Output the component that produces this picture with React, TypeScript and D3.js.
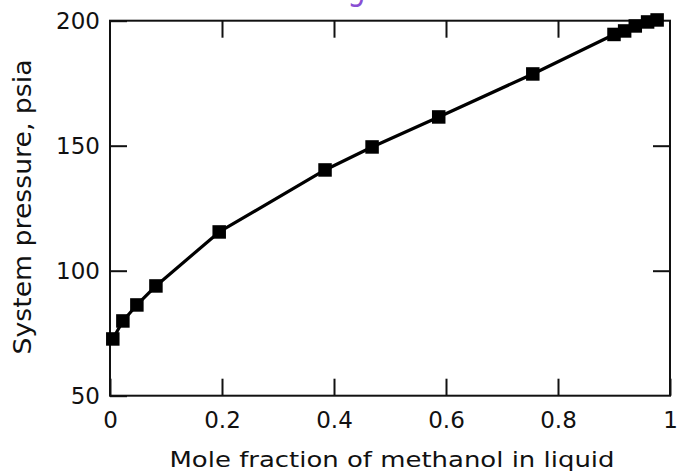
import {useRef, useEffect} from 'react';
import * as d3 from 'd3';

// mole fraction of methanol in liquid vs system pressure (psia)
const MOLE_FRACTION = [0.005, 0.023, 0.048, 0.082, 0.195, 0.384, 0.468, 0.587, 0.755, 0.9, 0.919, 0.938, 0.96, 0.977];
const PRESSURE = [72.7, 79.9, 86.3, 93.9, 115.5, 140.3, 149.5, 161.5, 178.7, 194.5, 195.9, 197.9, 199.5, 200.3];

const X_TICKS = [0, 0.2, 0.4, 0.6, 0.8, 1];
const X_TICK_LABELS = ['0', '0.2', '0.4', '0.6', '0.8', '1'];
const Y_TICKS = [50, 100, 150, 200];
const Y_TICK_LABELS = ['50', '100', '150', '200'];

const TITLE = 'Isothermal diagram at 100 °C';
const X_TITLE = 'Mole fraction of methanol in liquid';
const Y_TITLE = 'System pressure, psia';

export default function App() {
    const bottomAxis = useRef(null);
    const leftAxis = useRef(null);
    const topAxis = useRef(null);
    const rightAxis = useRef(null);

    const CHART = {
        width: 678,
        height: 473,
        left: 110,
        right: 670,
        top: 20.7,
        bottom: 395.7,
        tick: 17,
        marker: 13.5
    };

    const xScale = d3.scaleLinear().domain([0, 1]).range([CHART.left, CHART.right]);
    const yScale = d3.scaleLinear().domain([50, 200]).range([CHART.bottom, CHART.top]);

    const points = MOLE_FRACTION.map((x, i) => ({x, y: PRESSURE[i]}));

    const line = d3.line<{x: number, y: number}>()
        .x((d) => xScale(d.x))
        .y((d) => yScale(d.y));

    useEffect(() => {
        const style = (sel) => {
            sel.select('.domain').remove();
            sel.selectAll('.tick line').attr('stroke', '#111').attr('stroke-width', 2);
            sel.selectAll('.tick text')
                .attr('fill', '#111')
                .attr('font-family', '"DejaVu Sans", sans-serif')
                .attr('font-size', 23);
        };

        d3.select(bottomAxis.current)
            .call(d3.axisBottom(xScale)
                .tickValues(X_TICKS)
                .tickFormat((_, i) => X_TICK_LABELS[i])
                .tickSize(-CHART.tick)
                .tickPadding(16))
            .call(style);

        d3.select(leftAxis.current)
            .call(d3.axisLeft(yScale)
                .tickValues(Y_TICKS)
                .tickFormat((_, i) => Y_TICK_LABELS[i])
                .tickSize(-CHART.tick)
                .tickPadding(10))
            .call(style);

        d3.select(topAxis.current)
            .call(d3.axisTop(xScale)
                .tickValues(X_TICKS.slice(1, -1))
                .tickFormat(() => '')
                .tickSize(-CHART.tick))
            .call(style);

        d3.select(rightAxis.current)
            .call(d3.axisRight(yScale)
                .tickValues(Y_TICKS.slice(1, -1))
                .tickFormat(() => '')
                .tickSize(-CHART.tick))
            .call(style);
    }, []);

    return (
        <svg width={CHART.width} height={CHART.height}
            style={{position: 'absolute', left: 0, top: 0, background: '#fff'}}>
            {/* title, cut off at the top edge as in the scan */}
            <text x={355} y={-0.5} textAnchor="middle" fill="#8a4fd3"
                fontFamily='"DejaVu Sans", sans-serif' fontSize={34}
                textLength={430} lengthAdjust="spacingAndGlyphs">{TITLE}</text>

            <rect x={CHART.left} y={CHART.top} width={CHART.right - CHART.left} height={CHART.bottom - CHART.top}
                fill="none" stroke="#111" strokeWidth={2} />

            <g ref={bottomAxis} transform={`translate(0, ${CHART.bottom})`} />
            <g ref={leftAxis} transform={`translate(${CHART.left}, 0)`} />
            <g ref={topAxis} transform={`translate(0, ${CHART.top})`} />
            <g ref={rightAxis} transform={`translate(${CHART.right}, 0)`} />

            <path d={line(points)} fill="none" stroke="#000" strokeWidth={3.2} strokeLinejoin="round" />
            {points.map((d, i) => (
                <rect key={i}
                    x={xScale(d.x) - CHART.marker / 2}
                    y={yScale(d.y) - CHART.marker / 2}
                    width={CHART.marker} height={CHART.marker} fill="#000" />
            ))}

            <text x={392} y={467} textAnchor="middle" fill="#111"
                fontFamily='"DejaVu Sans", sans-serif' fontSize={21}
                textLength={445} lengthAdjust="spacingAndGlyphs">{X_TITLE}</text>
            <text transform="translate(31, 207) rotate(-90)" textAnchor="middle" fill="#111"
                fontFamily='"DejaVu Sans", sans-serif' fontSize={25}
                textLength={295} lengthAdjust="spacingAndGlyphs">{Y_TITLE}</text>
        </svg>
    );
}
